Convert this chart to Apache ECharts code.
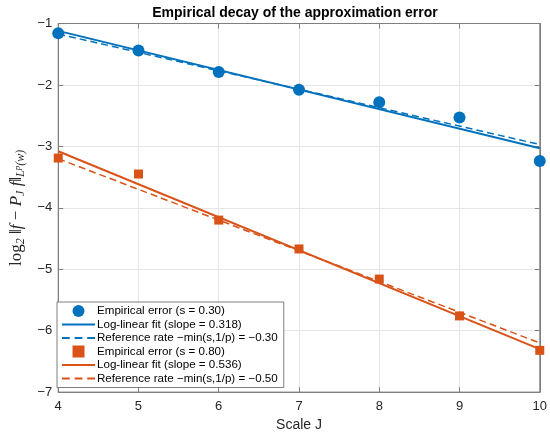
<!DOCTYPE html>
<html>
<head>
<meta charset="utf-8">
<script src="https://cdn.jsdelivr.net/npm/echarts@6/dist/echarts.min.js"></script>
<style>
  html, body { margin: 0; padding: 0; background: #fff; }
  #chart { width: 550px; height: 437px; }
</style>
</head>
<body>
<div id="chart"></div>
<script>
// scales J
const scales = [4, 5, 6, 7, 8, 9, 10]
// empirical log2 errors
const errLow = [-1.16, -1.44, -1.79, -2.08, -2.28, -2.53, -3.24]   // s = 0.30
const errHigh = [-3.19, -3.45, -4.20, -4.67, -5.16, -5.76, -6.32]  // s = 0.80
// line end values at J = 4 and J = 10
const lineEnds = [4, 10]
const fitLow = [-1.12, -3.03]
const refLow = [-1.17, -2.97]
const fitHigh = [-3.08, -6.30]
const refHigh = [-3.20, -6.20]

const blue = '#0072BD'
const orange = '#D95319'
const axisGray = '#7f7f7f'

const solidIcon = 'path://M0,0h34v2h-34z'
const dashIcon = 'path://M0,0h8v2h-8zM13,0h8v2h-8zM26,0h8v2h-8z'

const pairs = (xs, ys) => xs.map((x, i) => [x, ys[i]])

let chart = echarts.init(document.getElementById('chart'))
chart.setOption({
	animation: false,
	textStyle: { fontFamily: 'Liberation Sans, Arial, sans-serif' },
	title: {
		text: 'Empirical decay of the approximation error',
		left: 290, top: 1, textAlign: 'center',
		textStyle: { fontSize: 14, fontWeight: 'bold', color: '#000' }
	},
	grid: {
		left: 46, right: 6, top: 23.5, bottom: 41,
		show: true, borderColor: axisGray, borderWidth: 1
	},
	legend: {
		orient: 'vertical',
		left: 57, top: 302,
		itemGap: 1.5, itemWidth: 33, itemHeight: 12,
		padding: [3, 6, 3, 5],
		backgroundColor: '#fff',
		borderColor: axisGray, borderWidth: 1,
		textStyle: { fontSize: 11.6, color: '#000', padding: [0, 0, 0, -3] },
		data: [
			{ name: 'Empirical error (s = 0.30)', icon: 'circle', itemStyle: { opacity: 1 } },
			{ name: 'Log-linear fit (slope = 0.318)', icon: solidIcon },
			{ name: 'Reference rate \u2212min(s,1/p) = \u22120.30', icon: dashIcon },
			{ name: 'Empirical error (s = 0.80)', icon: 'path://M0,0h10v10h-10z' },
			{ name: 'Log-linear fit (slope = 0.536)', icon: solidIcon },
			{ name: 'Reference rate \u2212min(s,1/p) = \u22120.50', icon: dashIcon }
		]
	},
	xAxis: [{
		type: 'value', min: 4, max: 10, interval: 1,
		name: 'Scale J', nameLocation: 'middle', nameGap: 24,
		nameTextStyle: { fontSize: 14, color: '#262626' },
		axisLine: { show: true, lineStyle: { color: axisGray } },
		axisTick: { show: true, inside: true, length: 5, lineStyle: { color: axisGray } },
		axisLabel: { fontSize: 13, color: '#262626', margin: 8 },
		splitLine: { show: true, lineStyle: { color: '#e6e6e6' } }
	}, {
		type: 'value', min: 4, max: 10, interval: 1, position: 'top',
		axisLine: { show: true, lineStyle: { color: axisGray } },
		axisTick: { show: true, inside: true, length: 5, lineStyle: { color: axisGray } },
		axisLabel: { show: false }, splitLine: { show: false }
	}],
	yAxis: [{
		type: 'value', min: -7, max: -1, interval: 1,
		name: '{n|log}{s|2}{n| \u2016}{i|f}{n| \u2212 }{i|P}{s|J}{i| f}{n|\u2016}{s|L}{t|p}{s|(w)}',
		nameLocation: 'middle', nameGap: 19, nameRotate: 90,
		nameTextStyle: {
			rich: {
				n: { fontFamily: 'Liberation Serif', fontSize: 17, color: '#262626', lineHeight: 20 },
				i: { fontFamily: 'Liberation Serif', fontStyle: 'italic', fontSize: 17, color: '#262626', lineHeight: 20 },
				s: { fontFamily: 'Liberation Serif', fontStyle: 'italic', fontSize: 12, color: '#262626', lineHeight: 20, verticalAlign: 'bottom' },
				t: { fontFamily: 'Liberation Serif', fontStyle: 'italic', fontSize: 9, color: '#262626', lineHeight: 20, verticalAlign: 'bottom', padding: [0, 0, 4, 0] }
			}
		},
		axisLine: { show: true, lineStyle: { color: axisGray } },
		axisTick: { show: true, inside: true, length: 5, lineStyle: { color: axisGray } },
		axisLabel: { fontSize: 13, color: '#262626', margin: 6, formatter: v => (v < 0 ? '\u2212' + (-v) : v) },
		splitLine: { show: true, lineStyle: { color: '#e6e6e6' } }
	}, {
		type: 'value', min: -7, max: -1, interval: 1, position: 'right',
		axisLine: { show: true, lineStyle: { color: axisGray } },
		axisTick: { show: true, inside: true, length: 5, lineStyle: { color: axisGray } },
		axisLabel: { show: false }, splitLine: { show: false }
	}],
	series: [{
		name: 'Empirical error (s = 0.30)', type: 'scatter',
		symbol: 'circle', symbolSize: 12, z: 5,
		itemStyle: { color: blue, opacity: 1 },
		data: pairs(scales, errLow)
	}, {
		name: 'Log-linear fit (slope = 0.318)', type: 'line', showSymbol: false,
		symbol: 'none', lineStyle: { color: blue, width: 2 }, itemStyle: { color: blue },
		data: pairs(lineEnds, fitLow)
	}, {
		name: 'Reference rate \u2212min(s,1/p) = \u22120.30', type: 'line', showSymbol: false,
		symbol: 'none', lineStyle: { color: blue, width: 1.5, type: [7, 4] }, itemStyle: { color: blue },
		data: pairs(lineEnds, refLow)
	}, {
		name: 'Empirical error (s = 0.80)', type: 'scatter',
		symbol: 'rect', symbolSize: 9, z: 5,
		itemStyle: { color: orange, opacity: 1 },
		data: pairs(scales, errHigh)
	}, {
		name: 'Log-linear fit (slope = 0.536)', type: 'line', showSymbol: false,
		symbol: 'none', lineStyle: { color: orange, width: 2 }, itemStyle: { color: orange },
		data: pairs(lineEnds, fitHigh)
	}, {
		name: 'Reference rate \u2212min(s,1/p) = \u22120.50', type: 'line', showSymbol: false,
		symbol: 'none', lineStyle: { color: orange, width: 1.5, type: [7, 4] }, itemStyle: { color: orange },
		data: pairs(lineEnds, refHigh)
	}]
})
</script>
</body>
</html>
